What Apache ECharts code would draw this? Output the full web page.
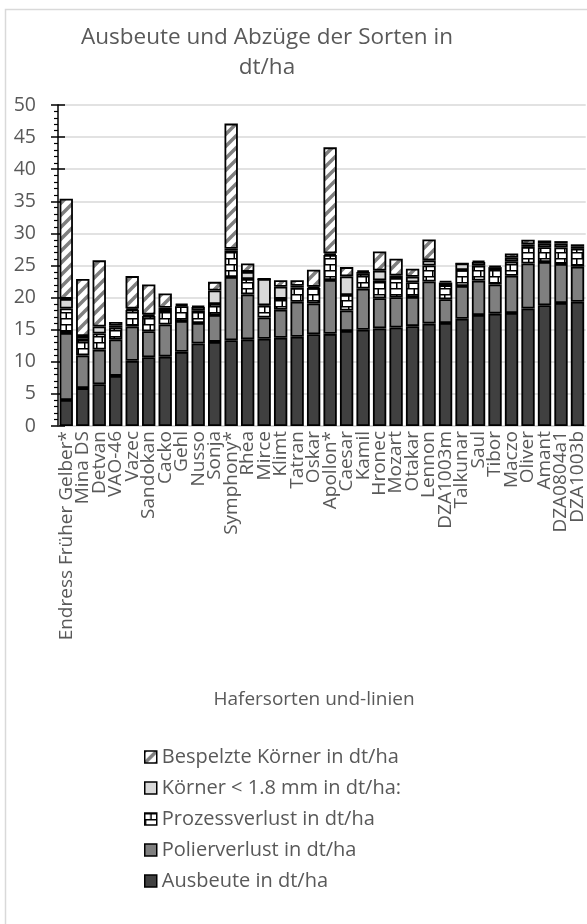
<!DOCTYPE html>
<html>
<head>
<meta charset="utf-8">
<script src="https://cdn.jsdelivr.net/npm/echarts@6/dist/echarts.min.js"></script>
<style>
  html, body { margin: 0; padding: 0; background: #fff; }
  #chart { width: 587px; height: 924px; }
</style>
</head>
<body>
<div id="chart"></div>
<script>
// Oat varieties and lines
const categories = ['Endress Früher Gelber*', 'Mina DS', 'Detvan', 'VAO-46', 'Vazec', 'Sandokan', 'Cacko', 'Gehl',
  'Nusso', 'Sonja', 'Symphony*', 'Rhea', 'Mirce', 'Klimt', 'Tatran', 'Oskar', 'Apollon*', 'Caesar', 'Kamil',
  'Hronec', 'Mozart', 'Otakar', 'Lennon', 'DZA1003m', 'Talkunar', 'Saul', 'Tibor', 'Maczo', 'Oliver', 'Amant',
  'DZA0804a1', 'DZA1003b'];

// Stacked components in dt/ha (bottom to top)
const ausbeute = [4.05, 5.9, 6.5, 7.8, 10.15, 10.7, 10.8, 11.55, 12.85, 13.1, 13.35, 13.5, 13.6, 13.75, 13.9, 14.3,
  14.35, 14.8, 15.0, 15.2, 15.35, 15.55, 15.95, 16.05, 16.7, 17.3, 17.5, 17.6, 18.3, 18.8, 19.15, 19.35];
const polierverlust = [10.45, 5.1, 5.4, 5.7, 5.35, 4.05, 5.0, 4.8, 3.2, 4.2, 9.85, 7.0, 3.3, 4.35, 5.45, 4.8,
  8.4, 3.2, 6.4, 4.7, 4.7, 4.55, 6.55, 3.7, 5.1, 5.35, 4.55, 5.8, 7.0, 6.75, 6.1, 5.45];
const prozessverlust = [3.8, 2.4, 2.5, 1.8, 2.6, 2.4, 2.1, 2.3, 1.9, 1.7, 4.1, 2.4, 1.9, 1.7, 2.2, 2.4,
  3.9, 2.4, 2.3, 2.8, 3.0, 2.3, 2.5, 2.2, 2.5, 2.3, 2.4, 2.2, 2.6, 2.3, 2.55, 2.8];
const koernerKlein = [1.5, 0.6, 1.1, 0.3, 0.2, 0.2, 0.5, 0.2, 0.6, 2.1, 0.3, 1.1, 4.1, 1.9, 0.3, 0.2,
  0.25, 2.9, 0.3, 1.5, 0.4, 0.85, 0.8, 0.4, 1.0, 0.6, 0.3, 0.6, 0.4, 0.6, 0.6, 0.4];
const bespelzt = [15.6, 8.9, 10.3, 0.6, 5.05, 4.7, 2.25, 0.2, 0.15, 1.35, 19.5, 1.3, 0, 1.0, 0.85, 2.65,
  16.5, 1.45, 0.25, 3.0, 2.6, 1.25, 3.25, 0.25, 0, 0.2, 0.25, 0.65, 0.7, 0.45, 0.4, 0.3];

const yTicks = { min: 0, max: 50, interval: 5 };

const seriesNames = ['Ausbeute in dt/ha', 'Polierverlust in dt/ha', 'Prozessverlust in dt/ha',
  'Körner < 1.8 mm in dt/ha:', 'Bespelzte Körner in dt/ha'];

// Fill patterns
function hatchCanvas() {
  const s = 12;
  const c = document.createElement('canvas');
  c.width = s; c.height = s;
  const g = c.getContext('2d');
  g.fillStyle = '#ffffff';
  g.fillRect(0, 0, s, s);
  g.strokeStyle = '#7f7f7f';
  g.lineWidth = 3.5;
  g.beginPath();
  g.moveTo(-2, s + 2); g.lineTo(s + 2, -2);
  g.moveTo(-2, 2); g.lineTo(2, -2);
  g.moveTo(s - 2, s + 2); g.lineTo(s + 2, s - 2);
  g.stroke();
  return c;
}
function brickCanvas() {
  const c = document.createElement('canvas');
  c.width = 12; c.height = 12;
  const g = c.getContext('2d');
  g.fillStyle = '#ffffff';
  g.fillRect(0, 0, 12, 12);
  g.fillStyle = '#000000';
  g.fillRect(0, 0, 12, 1.5);
  g.fillRect(0, 6, 12, 1.5);
  g.fillRect(5.5, 0, 1.5, 6);
  g.fillRect(0, 6, 1.5, 6);
  return c;
}

const fills = [
  '#404040',
  '#7f7f7f',
  { image: brickCanvas(), repeat: 'repeat' },
  '#d9d9d9',
  { image: hatchCanvas(), repeat: 'repeat' }
];
const values = [ausbeute, polierverlust, prozessverlust, koernerKlein, bespelzt];

const FONT = "'Open Sans', 'DejaVu Sans', sans-serif";
const TEXT = '#595959';

const chart = echarts.init(document.getElementById('chart'), null, { renderer: 'canvas' });

chart.setOption({
  animation: false,
  backgroundColor: '#ffffff',
  textStyle: { fontFamily: FONT },
  graphic: [
    {
      type: 'rect', silent: true, z: -10,
      shape: { x: 5.5, y: 9.5, width: 600, height: 930 },
      style: { fill: 'none', stroke: '#d9d9d9', lineWidth: 1.5 }
    },
    {
      type: 'text', silent: true, x: 314, y: 700,
      style: { text: 'Hafersorten und-linien', font: "19px " + FONT, fill: TEXT,
        align: 'center', verticalAlign: 'middle' }
    }
  ],
  title: {
    text: 'Ausbeute und Abzüge der Sorten in\ndt/ha',
    left: 262, top: 18, textAlign: 'center',
    textStyle: { fontFamily: FONT, fontSize: 22.5, fontWeight: 'normal', color: TEXT, lineHeight: 30 }
  },
  legend: {
    orient: 'vertical',
    left: 139, top: 742,
    itemWidth: 12, itemHeight: 12,
    itemGap: 11,
    icon: 'rect',
    data: seriesNames.slice().reverse(),
    textStyle: { fontFamily: FONT, fontSize: 20, color: TEXT },
    itemStyle: { borderColor: '#000', borderWidth: 1.5 }
  },
  grid: { left: 58, right: 1, top: 105, bottom: 498, containLabel: false },
  xAxis: {
    type: 'category',
    data: categories,
    axisLine: { lineStyle: { color: '#d9d9d9', width: 1.5 } },
    axisTick: { show: false },
    axisLabel: { interval: 0, rotate: 90, fontSize: 19, color: TEXT, margin: 5, fontFamily: FONT }
  },
  yAxis: [
    {
      type: 'value', min: yTicks.min, max: yTicks.max, interval: yTicks.interval,
      axisLine: { show: true, lineStyle: { color: '#000', width: 1.5 } },
      axisTick: { show: true, length: 7, lineStyle: { color: '#000', width: 1.5 } },
      minorTick: { show: true, splitNumber: 5, length: 4, lineStyle: { color: '#000', width: 1.2 } },
      splitLine: { show: true, lineStyle: { color: '#d9d9d9', width: 1.5 } },
      axisLabel: { fontSize: 19.5, color: TEXT, margin: 22, fontFamily: FONT }
    },
    {
      type: 'value', min: yTicks.min, max: yTicks.max, interval: yTicks.interval,
      position: 'left', offset: 0,
      axisLine: { show: false },
      axisTick: { show: true, inside: true, length: 7, lineStyle: { color: '#000', width: 1.5 } },
      splitLine: { show: false },
      axisLabel: { show: false }
    }
  ],
  series: seriesNames.map((name, i) => ({
    name: name,
    type: 'bar',
    stack: 'total',
    yAxisIndex: 0,
    barCategoryGap: '19%',
    data: values[i],
    itemStyle: { color: fills[i], borderColor: '#000', borderWidth: 1.8 }
  }))
});
</script>
</body>
</html>
